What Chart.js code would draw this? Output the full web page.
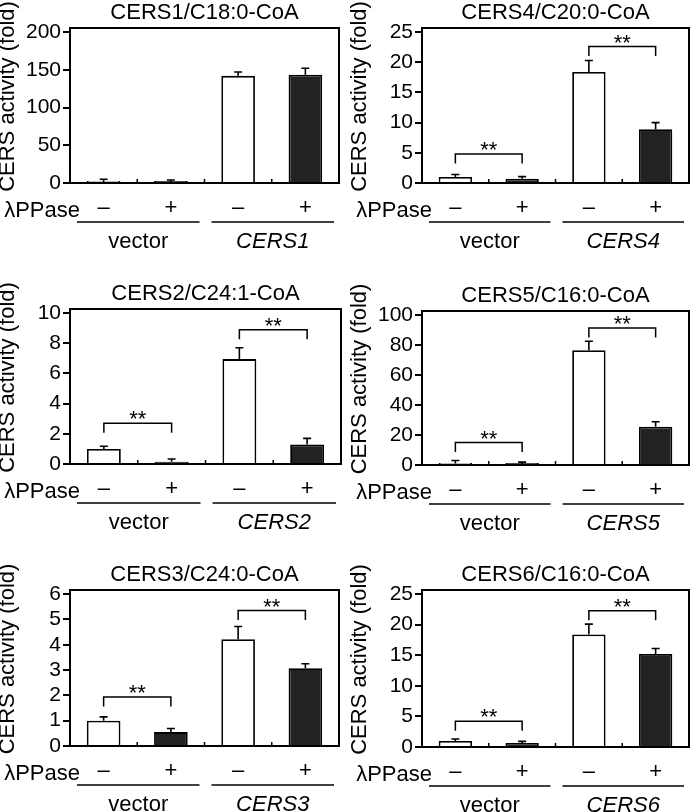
<!DOCTYPE html>
<html>
<head>
<meta charset="utf-8">
<script src="https://cdn.jsdelivr.net/npm/chart.js@4.4.0/dist/chart.umd.min.js"></script>
<style>
html,body{margin:0;padding:0;background:#fff;}
#wrap{position:relative;width:693px;height:812px;overflow:hidden;background:#fff;}
#wrap canvas{position:absolute;}
</style>
</head>
<body>
<div id="wrap"></div>
<script>
// ---------------- data ----------------
const categories = ['vector −', 'vector +', 'CERS −', 'CERS +'];
const ppaseLabels = ['–', '+', '–', '+'];
const panelTitles = ['CERS1/C18:0-CoA', 'CERS4/C20:0-CoA', 'CERS2/C24:1-CoA',
                     'CERS5/C16:0-CoA', 'CERS3/C24:0-CoA', 'CERS6/C16:0-CoA'];
const geneNames = ['CERS1', 'CERS4', 'CERS2', 'CERS5', 'CERS3', 'CERS6'];
const yTopTicks = [200, 25, 10, 100, 6, 25];
const yStepSizes = [50, 5, 2, 20, 1, 5];

const cers1Mean = [1.0, 1.0, 142, 143.5];
const cers1Err  = [4, 3, 5, 8.5];
const cers4Mean = [1.0, 0.7, 18.4, 8.9];
const cers4Err  = [0.4, 0.35, 1.9, 1.1];
const cers2Mean = [1.0, 0.15, 6.95, 1.3];
const cers2Err  = [0.18, 0.18, 0.75, 0.4];
const cers5Mean = [1.0, 0.6, 76.5, 25.5];
const cers5Err  = [2, 1.3, 6, 3.3];
const cers3Mean = [1.0, 0.55, 4.22, 3.07];
const cers3Err  = [0.15, 0.14, 0.5, 0.18];
const cers6Mean = [1.0, 0.65, 18.4, 15.2];
const cers6Err  = [0.3, 0.27, 1.7, 0.9];

// significance bracket heights (data units): [vector pair, CERS pair]
const cers1Bracket = [];
const cers4Bracket = [4.8, 22.6];
const cers2Bracket = [2.7, 8.9];
const cers5Bracket = [15, 91.4];
const cers3Bracket = [1.94, 5.35];
const cers6Bracket = [4.2, 22.3];
const bracketLabel = '**';

const panelMeans = [cers1Mean, cers4Mean, cers2Mean, cers5Mean, cers3Mean, cers6Mean];
const panelErrs  = [cers1Err, cers4Err, cers2Err, cers5Err, cers3Err, cers6Err];
const panelBrackets = [cers1Bracket, cers4Bracket, cers2Bracket, cers5Bracket, cers3Bracket, cers6Bracket];

// ---------------- layout ----------------
const FONT = "'Liberation Sans', Arial, Helvetica, sans-serif";
// canvas cells [left, top, width, height]
const cells = [[0,0,346,270],[346,0,347,270],[0,270,346,270],[346,270,347,270],[0,540,346,272],[346,540,347,272]];
// plot boxes in page coordinates [L, T, R, B]
const boxes = [[70,28,339,183],[422,28,689,183],[70,309,341,464],[422,311,689,465],[70,590,339,746],[422,590,689,747]];
const TOP_PAD = 1.027;

function centerText(ctx, text, x, yc, align) {
  ctx.textAlign = align || 'center';
  ctx.textBaseline = 'alphabetic';
  const m = ctx.measureText(text);
  const a = m.actualBoundingBoxAscent, d = m.actualBoundingBoxDescent;
  ctx.fillText(text, x, yc + (a - d) / 2);
}

const decor = {
  id: 'decor',
  afterDraw(chart, args, o) {
    const ctx = chart.ctx, ca = chart.chartArea;
    const xs = chart.scales.x, ys = chart.scales.y;
    ctx.save();
    ctx.strokeStyle = '#000'; ctx.fillStyle = '#000';
    // error bars (upper)
    ctx.lineWidth = 1.6;
    o.means.forEach((m, i) => {
      const xc = xs.getPixelForValue(i);
      const y0 = ys.getPixelForValue(m);
      const y1 = ys.getPixelForValue(m + o.errs[i]);
      ctx.beginPath();
      ctx.moveTo(xc, y0); ctx.lineTo(xc, y1);
      ctx.moveTo(xc - 4, y1); ctx.lineTo(xc + 4, y1);
      ctx.stroke();
    });
    // inward ticks between categories
    ctx.lineWidth = 1.5;
    for (let i = 1; i < o.means.length; i++) {
      const xb = (xs.getPixelForValue(i - 1) + xs.getPixelForValue(i)) / 2;
      ctx.beginPath(); ctx.moveTo(xb, ca.bottom); ctx.lineTo(xb, ca.bottom - 4); ctx.stroke();
    }
    // box
    ctx.lineWidth = 2;
    ctx.strokeRect(ca.left, ca.top, ca.right - ca.left, ca.bottom - ca.top);
    // brackets
    ctx.lineWidth = 1.5;
    o.brackets.forEach((h, k) => {
      const x1 = xs.getPixelForValue(2 * k), x2 = xs.getPixelForValue(2 * k + 1);
      const yl = ys.getPixelForValue(h);
      ctx.beginPath();
      ctx.moveTo(x1, yl + 9.5); ctx.lineTo(x1, yl); ctx.lineTo(x2, yl); ctx.lineTo(x2, yl + 9.5);
      ctx.stroke();
      ctx.font = '22px ' + FONT;
      centerText(ctx, bracketLabel, (x1 + x2) / 2, yl - 8);
    });
    // title
    ctx.font = '22px ' + FONT;
    centerText(ctx, o.title, (ca.left + ca.right) / 2, ca.top - 17);
    // y title
    ctx.save();
    ctx.translate(ca.left - 61.5, (ca.top + ca.bottom) / 2 - 9);
    ctx.rotate(-Math.PI / 2);
    centerText(ctx, 'CERS activity (fold)', 0, 0);
    ctx.restore();
    // lambda PPase
    ctx.font = '22px ' + FONT;
    centerText(ctx, 'λPPase', ca.left + 10, ca.bottom + 25.5, 'right');
    // group lines and labels
    const mid = (xs.getPixelForValue(1) + xs.getPixelForValue(2)) / 2;
    const groups = [[ca.left, mid, 'vector', false], [mid, ca.right, o.gene, true]];
    ctx.lineWidth = 1.6;
    groups.forEach(g => {
      const a = g[0] + 7, b = g[1] - 5;
      ctx.beginPath(); ctx.moveTo(a, ca.bottom + 39); ctx.lineTo(b, ca.bottom + 39); ctx.stroke();
      ctx.font = (g[3] ? 'italic ' : '') + '22px ' + FONT;
      centerText(ctx, g[2], (a + b) / 2, ca.bottom + 57);
    });
    ctx.restore();
  }
};

const wrap = document.getElementById('wrap');
for (let p = 0; p < 6; p++) {
  const [cx, cy, cw, chh] = cells[p];
  const [L, T, R, B] = boxes[p];
  const cv = document.createElement('canvas');
  cv.width = cw; cv.height = chh;
  cv.style.left = cx + 'px'; cv.style.top = cy + 'px';
  cv.style.width = cw + 'px'; cv.style.height = chh + 'px';
  wrap.appendChild(cv);
  const lL = L - cx, lT = T - cy, lR = R - cx, lB = B - cy;
  const top = yTopTicks[p];
  new Chart(cv, {
    type: 'bar',
    data: {
      labels: categories,
      datasets: [{
        data: panelMeans[p],
        backgroundColor: ['#ffffff', '#222222', '#ffffff', '#222222'],
        borderColor: '#000',
        borderWidth: 1.8,
        minBarLength: 2,
        barPercentage: 0.5,
        categoryPercentage: 1.0
      }]
    },
    options: {
      responsive: false,
      maintainAspectRatio: false,
      animation: false,
      devicePixelRatio: 1,
      layout: { padding: { left: 0, top: lT, right: cw - lR, bottom: 0 } },
      plugins: {
        legend: { display: false },
        tooltip: { enabled: false },
        decor: { means: panelMeans[p], errs: panelErrs[p], brackets: panelBrackets[p],
                 title: panelTitles[p], gene: geneNames[p] }
      },
      scales: {
        x: {
          grid: { display: false, drawTicks: false },
          border: { display: false },
          ticks: {
            callback: (v, i) => ppaseLabels[i],
            font: { family: FONT, size: 22, lineHeight: 1 },
            color: '#000', padding: 14, maxRotation: 0, autoSkip: false
          },
          afterFit: s => { s.height = chh - lB; }
        },
        y: {
          min: 0,
          max: top * TOP_PAD,
          afterBuildTicks: ax => { ax.ticks = ax.ticks.filter(t => t.value <= top + 1e-9); },
          ticks: { stepSize: yStepSizes[p], includeBounds: false, autoSkip: false,
                   font: { family: FONT, size: 21 }, color: '#000', padding: 2 },
          grid: { drawOnChartArea: false, drawTicks: true, tickLength: 7, color: '#000', lineWidth: 2 },
          border: { display: false },
          afterFit: s => { s.width = lL; }
        }
      }
    },
    plugins: [decor]
  });
}
</script>
</body>
</html>
